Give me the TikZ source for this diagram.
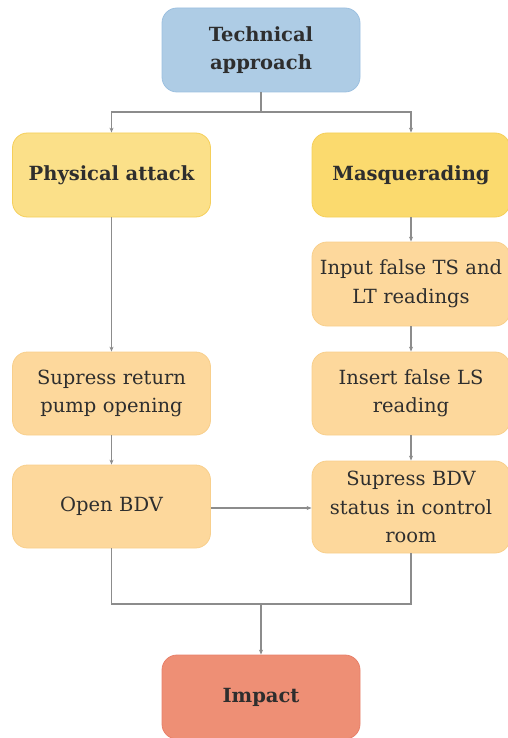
\documentclass[tikz,border=0pt]{standalone}
\usepackage{fontspec}
\setmainfont{DejaVu Serif}
\usetikzlibrary{arrows.meta}
\definecolor{blueFill}{HTML}{AECCE5}
\definecolor{blueLine}{HTML}{9CC0E0}
\definecolor{yellowA}{HTML}{FBE089}
\definecolor{yellowB}{HTML}{FBDA6E}
\definecolor{yellowLine}{HTML}{F5CF5A}
\definecolor{peach}{HTML}{FDD89C}
\definecolor{peachLine}{HTML}{F8CF8C}
\definecolor{salmon}{HTML}{EE8F75}
\definecolor{salmonLine}{HTML}{E8806A}
\definecolor{wire}{HTML}{8C8C8C}
\definecolor{ink}{HTML}{2E2E2E}
\tikzset{
  x=1pt, y=-1pt,
  box/.style={rectangle, rounded corners=15pt, line width=0.8pt, align=center,
    inner sep=0pt, minimum width=198pt, text width=194pt, text=ink,
    font=\fontsize{19.5}{28.5}\selectfont},
  headbox/.style={box, font=\fontsize{19.5}{28.5}\selectfont\bfseries},
  conn/.style={draw=wire, line width=1.2pt, -{Stealth[length=5pt,width=4pt]}},
  wireline/.style={draw=wire, line width=1.2pt},
}
\begin{document}
\begin{tikzpicture}
\useasboundingbox (0,0) rectangle (507,738);
% boxes
\node[headbox, fill=blueFill, draw=blueLine, minimum height=84pt] (tech) at (261,50) {Technical\\approach};
\node[headbox, fill=yellowA, draw=yellowLine, minimum height=84pt] (phys) at (111.5,175) {Physical attack};
\node[headbox, fill=yellowB, draw=yellowLine, minimum height=84pt] (masq) at (411,175) {Masquerading};
\node[box, fill=peach, draw=peachLine, minimum height=84pt] (input) at (411,284) {Input false TS and\\LT readings};
\node[box, fill=peach, draw=peachLine, minimum height=83pt] (supret) at (111.5,393.5) {Supress return\\pump opening};
\node[box, fill=peach, draw=peachLine, minimum height=83pt] (insert) at (411,393.5) {Insert false LS\\reading};
\node[box, fill=peach, draw=peachLine, minimum height=83pt] (openbdv) at (111.5,506.5) {Open BDV};
\node[box, fill=peach, draw=peachLine, minimum height=92pt] (supbdv) at (411,507) {Supress BDV\\status in control\\room};
\node[headbox, fill=salmon, draw=salmonLine, minimum height=84pt] (impact) at (261,697) {Impact};
% junction points
\coordinate (split) at (261,112);
\coordinate (merge) at (261,604);
% connectors
\draw[wireline] (tech.south) -- (split);
\draw[conn] (split) -| (phys.north);
\draw[conn] (split) -| (masq.north);
\draw[conn] (phys.south) -- (supret.north);
\draw[conn] (supret.south) -- (openbdv.north);
\draw[conn] (masq.south) -- (input.north);
\draw[conn] (input.south) -- (insert.north);
\draw[conn] (insert.south) -- (supbdv.north);
\draw[conn] (openbdv.east |- 0,508) -- (supbdv.west |- 0,508);
\draw[wireline] (openbdv.south) |- (merge);
\draw[wireline] (supbdv.south) |- (merge);
\draw[conn] (merge) -- (impact.north);
\end{tikzpicture}
\end{document}
